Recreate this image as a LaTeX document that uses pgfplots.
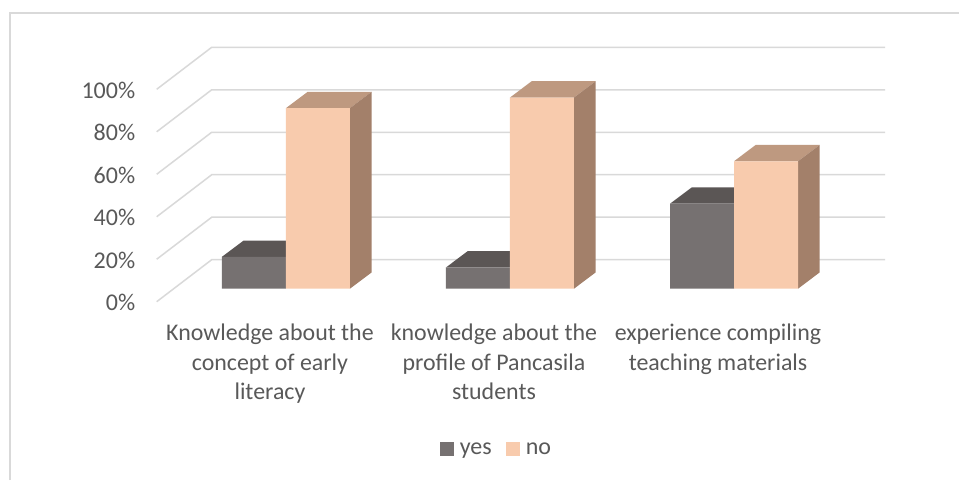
\documentclass[border=0pt]{standalone}
\usepackage{pgfplots}
\pgfplotsset{compat=1.18}
\usepackage{fontspec}
\setmainfont{Carlito}
\definecolor{txt}{HTML}{595959}
\definecolor{gridc}{HTML}{D9D9D9}
\definecolor{yesF}{HTML}{767171}
\definecolor{yesT}{HTML}{5B5655}
\definecolor{noF}{HTML}{F8CBAD}
\definecolor{noT}{HTML}{BE9980}
\definecolor{noS}{HTML}{A3806A}
\begin{document}
\begin{tikzpicture}[x=1pt,y=1pt]
\useasboundingbox (0,0) rectangle (959,480);
\fill[white] (0,0) rectangle (959,480);
\draw[gridc,line width=2pt] (10,0) -- (10,467) -- (959,467);
\begin{axis}[
  at={(156.7pt,178.3pt)},anchor=south west,
  scale only axis,width=728.3pt,height=254.4pt,
  xmin=-0.577,xmax=2.674,ymin=-6.12,ymax=113.65,
  clip=false,
  axis line style={draw=none},
  major tick length=0pt,
  xtick={0,1,2},
  xticklabels={Knowledge about the\\concept of early\\literacy,knowledge about the\\profile of Pancasila\\students,experience compiling\\teaching materials\\\mbox{}},
  xticklabel style={align=center,font=\fontsize{23.9}{29.5}\selectfont,text=txt,yshift=-19pt,xshift=-16pt,anchor=north},
  ytick={-6.12,13.88,33.88,53.88,73.88,93.88},
  yticklabels={0\%,20\%,40\%,60\%,80\%,100\%},
  yticklabel style={font=\fontsize{24}{26}\selectfont,text=txt,anchor=east,xshift=-18pt,yshift=-1pt},
  /pgf/number format/assume math mode=true,
  legend style={draw=none,fill=none,at={(0.4665,-0.579)},anchor=center,legend columns=2,
    font=\fontsize{24}{26}\selectfont,text=txt,/tikz/every even column/.append style={column sep=12pt}},
  legend image code/.code={\fill[#1] (0pt,-7pt) rectangle (14pt,7pt);\path (18pt,0pt);},
]
% grid
\addplot[gridc,line width=1.5pt,forget plot] coordinates {(-0.577,-6.12)(-0.3315,13.65)(2.674,13.65)};
\addplot[gridc,line width=1.5pt,forget plot] coordinates {(-0.577,13.88)(-0.3315,33.65)(2.674,33.65)};
\addplot[gridc,line width=1.5pt,forget plot] coordinates {(-0.577,33.88)(-0.3315,53.65)(2.674,53.65)};
\addplot[gridc,line width=1.5pt,forget plot] coordinates {(-0.577,53.88)(-0.3315,73.65)(2.674,73.65)};
\addplot[gridc,line width=1.5pt,forget plot] coordinates {(-0.577,73.88)(-0.3315,93.65)(2.674,93.65)};
\addplot[gridc,line width=1.5pt,forget plot] coordinates {(-0.577,93.88)(-0.3315,113.65)(2.674,113.65)};
% tops and sides
\addplot[fill=yesT,draw=none,forget plot] coordinates {(-0.2857,15)(0,15)(0.0967,22.67)(-0.189,22.67)} -- cycle;
\addplot[fill=yesT,draw=none,forget plot] coordinates {(0.7143,10)(1,10)(1.0967,17.67)(0.811,17.67)} -- cycle;
\addplot[fill=yesT,draw=none,forget plot] coordinates {(1.7143,40)(2,40)(2.0967,47.67)(1.811,47.67)} -- cycle;
\addplot[fill=noT,draw=none,forget plot] coordinates {(0,85)(0.2857,85)(0.3824,92.67)(0.0967,92.67)} -- cycle;
\addplot[fill=noT,draw=none,forget plot] coordinates {(1,90)(1.2857,90)(1.3824,97.67)(1.0967,97.67)} -- cycle;
\addplot[fill=noT,draw=none,forget plot] coordinates {(2,60)(2.2857,60)(2.3824,67.67)(2.0967,67.67)} -- cycle;
\addplot[fill=noS,draw=none,forget plot] coordinates {(0.2857,0)(0.3824,7.67)(0.3824,92.67)(0.2857,85)} -- cycle;
\addplot[fill=noS,draw=none,forget plot] coordinates {(1.2857,0)(1.3824,7.67)(1.3824,97.67)(1.2857,90)} -- cycle;
\addplot[fill=noS,draw=none,forget plot] coordinates {(2.2857,0)(2.3824,7.67)(2.3824,67.67)(2.2857,60)} -- cycle;
% fronts
\addplot[ybar,bar width=64pt,bar shift=-32pt,fill=yesF,draw=none] coordinates {(0,15)(1,10)(2,40)};
\addplot[ybar,bar width=64pt,bar shift=32pt,fill=noF,draw=none] coordinates {(0,85)(1,90)(2,60)};
\legend{yes,no}
\end{axis}
\end{tikzpicture}
\end{document}
